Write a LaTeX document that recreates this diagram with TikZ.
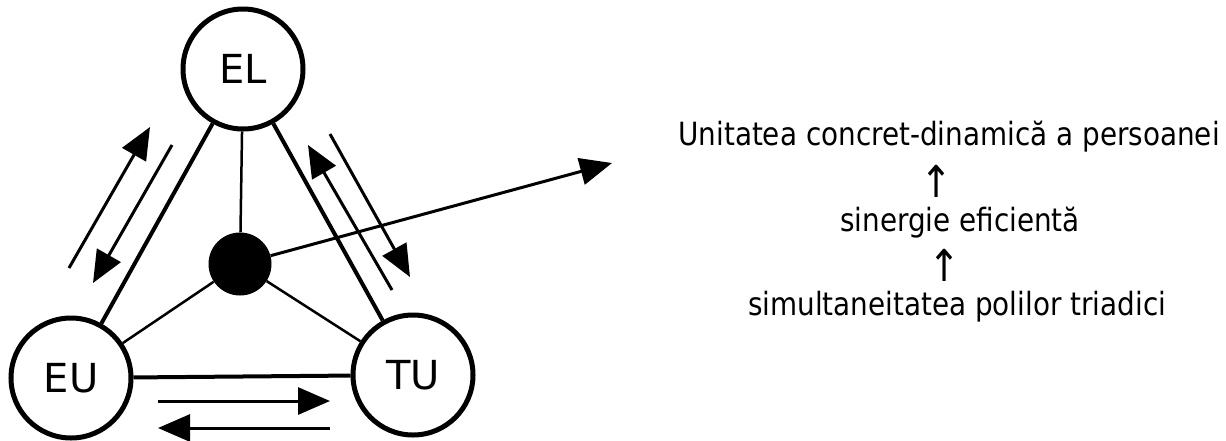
\documentclass[tikz,border=0pt]{standalone}
\usepackage{fontspec}
\setmainfont{DejaVu Sans}[FakeStretch=0.87]
\newfontfamily\circfont{DejaVu Sans}
\usepackage{tikz}
\usetikzlibrary{arrows.meta}

\tikzset{
  pole/.style={circle, draw, line width=5pt, minimum size=120pt, inner sep=0pt,
    font=\circfont\fontsize{40}{40}\selectfont},
  hub/.style={circle, fill, inner sep=0pt, minimum size=63pt},
  main link/.style={line width=4pt},
  spoke/.style={line width=2.5pt},
  flow/.style={line width=3pt, -{Triangle[length=32pt,width=27pt]}},
  caption/.style={anchor=base, font=\fontsize{32}{38}\selectfont},
  upmark/.style={inner sep=0pt, font=\fontsize{44}{44}\selectfont}
}

\begin{document}
\begin{tikzpicture}[x=1pt, y=-1pt]
    \useasboundingbox (0,0) rectangle (1226,440);

    \node[pole](el) at (243, 69) {EL};
    \node[pole](eu) at ( 71,378) {EU};
    \node[pole](tu) at (413,375) {TU};
    \node[hub](c) at (240,264) {};

    \draw[main link] (el) -- (eu)
                     (el) -- (tu)
                     (eu) -- (tu);
    \draw[spoke] (c) -- (el)
                 (c) -- (eu)
                 (c) -- (tu);

    \coordinate(l1a) at ( 69,268);
    \coordinate(l1b) at (150,127);
    \coordinate(l2a) at (172,145);
    \coordinate(l2b) at ( 93,283);
    \coordinate(r1a) at (392,290);
    \coordinate(r1b) at (308,145);
    \coordinate(r2a) at (330,134);
    \coordinate(r2b) at (410,277);
    \coordinate(b1a) at (158,401);
    \coordinate(b1b) at (330,401);
    \coordinate(b2a) at (330,428);
    \coordinate(b2b) at (158,428);
    \coordinate(out) at (612,163);

    \draw[flow] (l1a) -- (l1b);
    \draw[flow] (l2a) -- (l2b);
    \draw[flow] (r1a) -- (r1b);
    \draw[flow] (r2a) -- (r2b);
    \draw[flow] (b1a) -- (b1b);
    \draw[flow] (b2a) -- (b2b);
    \draw[flow] (c) -- (out);

    \node[caption](whole) at (949,145) {Unitatea concret-dinamică a persoanei};
    \node[upmark](up1) at (937,181) {↑};
    \node[caption](syn) at (960,231) {sinergie eficientă};
    \node[upmark](up2) at (945,265) {↑};
    \node[caption](poles) at (957,315) {simultaneitatea polilor triadici};
\end{tikzpicture}
\end{document}
